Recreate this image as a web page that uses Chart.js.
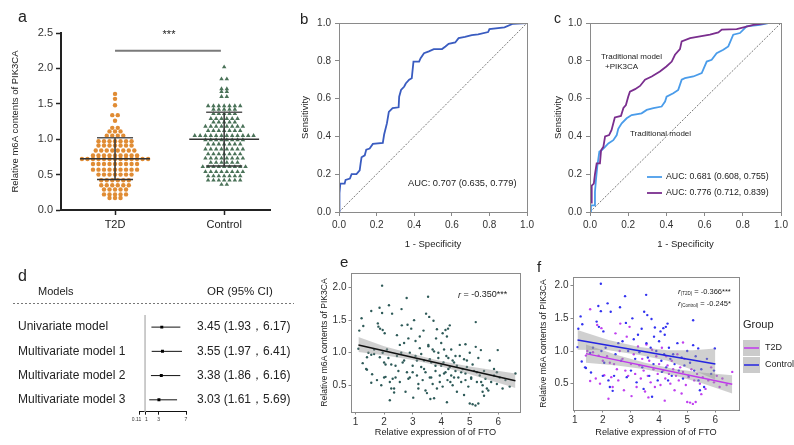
<!DOCTYPE html>
<html><head><meta charset="utf-8">
<script src="https://cdn.jsdelivr.net/npm/chart.js@4.4.0/dist/chart.umd.min.js"></script>
<style>
html,body{margin:0;padding:0;background:#fff;width:794px;height:445px;overflow:hidden;position:relative}
canvas{position:absolute}
</style></head><body>
<script>
// ================= DATA =================
// Panel a
const groupsA = ['T2D', 'Control'];
const t2dValues = [1.64, 1.57, 1.48, 1.34, 1.34, 1.26, 1.16, 1.16, 1.11, 1.11, 1.11, 1.05, 1.05, 1.05, 1.05,
  0.97, 0.97, 0.97, 0.97, 0.97, 0.97, 0.97, 0.91, 0.91, 0.91, 0.91, 0.91, 0.91, 0.91,
  0.84, 0.84, 0.84, 0.84, 0.84, 0.84, 0.84, 0.84, 0.77, 0.77, 0.77, 0.77, 0.77, 0.77, 0.77, 0.77, 0.77,
  0.72, 0.72, 0.72, 0.72, 0.72, 0.72, 0.72, 0.72, 0.72, 0.72, 0.72, 0.72, 0.72,
  0.65, 0.65, 0.65, 0.65, 0.65, 0.65, 0.65, 0.65, 0.65, 0.57, 0.57, 0.57, 0.57, 0.57, 0.57, 0.57, 0.57, 0.57,
  0.50, 0.50, 0.50, 0.50, 0.50, 0.50, 0.50, 0.42, 0.42, 0.42, 0.42, 0.42, 0.42,
  0.35, 0.35, 0.35, 0.35, 0.35, 0.35, 0.29, 0.29, 0.29, 0.29, 0.29, 0.22, 0.22, 0.22, 0.22, 0.22, 0.17, 0.17, 0.17];
const controlValues = [2.02, 1.85, 1.85, 1.71, 1.71, 1.67, 1.67, 1.60, 1.60,
  1.47, 1.47, 1.47, 1.47, 1.47, 1.47, 1.47, 1.42, 1.42, 1.42, 1.42, 1.42, 1.36, 1.36, 1.36, 1.36, 1.36,
  1.29, 1.29, 1.29, 1.29, 1.29, 1.29, 1.24, 1.24, 1.24, 1.24, 1.24, 1.18, 1.18, 1.18, 1.18, 1.18, 1.18, 1.18, 1.18,
  1.12, 1.12, 1.12, 1.12, 1.12, 1.12, 1.12, 1.05, 1.05, 1.05, 1.05, 1.05, 1.05, 1.05, 1.05, 1.05, 1.05, 1.05, 1.05,
  0.99, 0.99, 0.99, 0.99, 0.99, 0.99, 0.99, 0.99, 0.93, 0.93, 0.93, 0.93, 0.93, 0.93, 0.93,
  0.86, 0.86, 0.86, 0.86, 0.86, 0.86, 0.86, 0.86, 0.79, 0.79, 0.79, 0.79, 0.79, 0.79, 0.79,
  0.73, 0.73, 0.73, 0.73, 0.73, 0.73, 0.73, 0.73, 0.67, 0.67, 0.67, 0.67, 0.67, 0.67,
  0.61, 0.61, 0.61, 0.61, 0.61, 0.61, 0.61, 0.61, 0.61, 0.54, 0.54, 0.54, 0.54, 0.54, 0.54, 0.54, 0.54,
  0.48, 0.48, 0.48, 0.48, 0.48, 0.48, 0.48, 0.42, 0.42, 0.42, 0.42, 0.42, 0.42, 0.42, 0.36, 0.36];
const groupMeans = [0.725, 1.00];
const groupSDs = [0.295, 0.38];
const sigBarLevel = 2.25;
const sigLabel = '***';
const yTicksA = [0, 0.5, 1.0, 1.5, 2.0, 2.5];

// Panel b
const rocB_fpr = [0, 0, 0.005, 0.007, 0.03, 0.035, 0.058, 0.067, 0.093, 0.11, 0.115, 0.12, 0.137, 0.145, 0.163, 0.18, 0.233, 0.24, 0.255, 0.265,
  0.285, 0.317, 0.32, 0.33, 0.347, 0.355, 0.373, 0.387, 0.396, 0.426, 0.434, 0.452, 0.478, 0.504, 0.548, 0.566, 0.583, 0.618, 0.636, 0.67,
  0.706, 0.74, 0.793, 0.80, 0.88, 0.925, 1.0];
const rocB_tpr = [0, 0.097, 0.10, 0.15, 0.15, 0.17, 0.177, 0.2, 0.2, 0.22, 0.257, 0.29, 0.30, 0.33, 0.336, 0.36, 0.366, 0.41, 0.47, 0.53,
  0.55, 0.554, 0.61, 0.646, 0.664, 0.68, 0.70, 0.708, 0.796, 0.796, 0.814, 0.84, 0.85, 0.862, 0.862, 0.876, 0.89, 0.897, 0.92, 0.926,
  0.936, 0.94, 0.952, 0.968, 0.977, 0.996, 1.0];
const aucB = 'AUC: 0.707 (0.635, 0.779)';

// Panel c
const rocTrad_fpr = [0, 0.005, 0.005, 0.022, 0.026, 0.031, 0.038, 0.049, 0.061, 0.079, 0.096, 0.122, 0.14, 0.148, 0.166, 0.192, 0.218, 0.27, 0.297, 0.332,
  0.375, 0.393, 0.401, 0.436, 0.462, 0.48, 0.497, 0.541, 0.585, 0.611, 0.637, 0.663, 0.698, 0.724, 0.75, 0.785, 0.82, 0.89, 0.934, 1.0];
const rocTrad_tpr = [0, 0, 0.035, 0.035, 0.106, 0.168, 0.24, 0.32, 0.327, 0.345, 0.363, 0.38, 0.407, 0.44, 0.469, 0.496, 0.513, 0.522, 0.54, 0.549,
  0.558, 0.584, 0.61, 0.628, 0.646, 0.70, 0.708, 0.717, 0.735, 0.796, 0.805, 0.84, 0.858, 0.876, 0.938, 0.947, 0.982, 0.99, 1.0, 1.0];
const rocPik_fpr = [0, 0, 0.009, 0.009, 0.02, 0.026, 0.035, 0.052, 0.058, 0.07, 0.079, 0.10, 0.113, 0.13, 0.162, 0.175, 0.188, 0.2, 0.209, 0.236,
  0.262, 0.288, 0.323, 0.366, 0.40, 0.428, 0.445, 0.471, 0.48, 0.524, 0.576, 0.628, 0.672, 0.69, 0.768, 0.855, 0.925, 1.0];
const rocPik_tpr = [0, 0.05, 0.05, 0.14, 0.15, 0.2, 0.257, 0.257, 0.327, 0.345, 0.40, 0.407, 0.434, 0.50, 0.508, 0.55, 0.566, 0.61, 0.637, 0.65,
  0.667, 0.70, 0.717, 0.743, 0.77, 0.796, 0.832, 0.862, 0.903, 0.92, 0.929, 0.938, 0.95, 0.965, 0.968, 0.99, 1.0, 1.0];
const aucTrad = 'AUC: 0.681 (0.608, 0.755)';
const aucPik = 'AUC: 0.776 (0.712, 0.839)';
const rocTicks = [0, 0.2, 0.4, 0.6, 0.8, 1.0];

// Panel d
const forestModels = ['Univariate model', 'Multivariate model 1', 'Multivariate model 2', 'Multivariate model 3'];
const forestOR = [3.45, 3.55, 3.38, 3.03];
const forestLow = [1.93, 1.97, 1.86, 1.61];
const forestHigh = [6.17, 6.41, 6.16, 5.69];
const forestTicks = [0.11, 1, 3, 7];

// Panels e / f
const ctrlPoints = [[1.10,1.06],[1.13,1.34],[1.21,1.53],[1.27,1.41],[1.25,0.84],[1.37,0.75],[1.40,0.74],[1.58,0.67],[1.55,0.97],[1.65,1.05],
  [1.78,1.45],[1.84,1.69],[1.86,1.37],[1.93,1.61],[1.93,2.03],[1.95,1.00],[2.00,0.62],[2.02,1.30],[2.05,0.82],[2.10,1.05],
  [2.17,1.73],[2.20,0.55],[2.25,0.45],[2.28,1.60],[2.35,0.39],[2.40,0.62],[2.45,0.95],[2.55,1.12],[2.61,1.67],[2.65,0.85],
  [2.70,1.15],[2.79,1.84],[2.82,1.43],[2.85,0.60],[2.90,1.00],[3.00,0.70],[3.05,1.50],[3.10,1.18],[3.15,0.88],[3.20,0.52],
  [3.25,1.25],[3.30,0.98],[3.38,1.34],[3.40,0.75],[3.45,0.42],[3.47,1.60],[3.54,1.86],[3.55,1.12],[3.58,1.55],[3.60,0.90],
  [3.65,0.62],[3.70,1.05],[3.73,1.49],[3.75,0.30],[3.80,0.80],[3.82,1.22],[3.85,1.36],[3.90,1.00],[3.95,0.55],[4.00,1.15],
  [4.05,1.30],[4.08,0.85],[4.10,0.68],[4.15,1.35],[4.18,0.95],[4.20,1.25],[4.24,1.37],[4.25,0.75],[4.30,1.42],[4.32,0.55],
  [4.35,1.05],[4.40,0.88],[4.45,0.62],[4.50,0.95],[4.55,0.80],[4.65,1.12],[4.70,0.70],[4.80,0.90],[4.85,0.58],[4.90,0.78],
  [5.00,1.00],[5.05,0.62],[5.10,0.82],[5.21,1.47],[5.21,1.09],[5.25,0.70],[5.30,0.92],[5.39,1.04],[5.40,0.55],[5.45,0.40],
  [5.50,0.72],[5.60,0.45],[5.70,0.88],[5.85,0.65],[5.95,0.70],[5.98,1.04]];
const t2dPoints = [[1.40,0.93],[1.45,1.00],[1.55,1.64],[1.55,0.54],[1.65,0.98],[1.75,0.58],[1.80,1.40],[1.85,0.93],[1.90,0.50],[1.95,1.35],
  [2.00,0.85],[2.05,0.63],[2.15,0.92],[2.20,0.27],[2.25,0.82],[2.30,0.60],[2.35,0.45],[2.40,0.80],[2.45,1.27],[2.50,0.72],
  [2.55,0.55],[2.60,1.00],[2.62,1.42],[2.70,0.88],[2.75,0.40],[2.80,0.70],[2.85,1.22],[2.90,0.62],[2.95,1.37],[3.00,0.80],
  [3.02,0.31],[3.10,0.95],[3.15,0.65],[3.20,0.45],[3.25,1.07],[3.30,0.78],[3.35,0.58],[3.40,0.88],[3.45,0.70],[3.50,0.38],
  [3.55,1.10],[3.60,0.62],[3.62,0.29],[3.65,0.85],[3.70,0.52],[3.75,1.02],[3.80,0.72],[3.85,0.45],[3.90,0.92],[3.95,0.65],
  [4.00,0.80],[4.05,0.48],[4.10,1.05],[4.15,0.70],[4.20,0.24],[4.22,0.58],[4.25,0.92],[4.30,0.78],[4.35,0.65],[4.40,0.50],
  [4.45,0.85],[4.50,0.72],[4.55,0.40],[4.60,0.62],[4.65,0.95],[4.70,0.55],[4.75,0.75],[4.80,0.35],[4.85,1.13],[4.85,0.68],
  [4.90,0.88],[4.95,0.48],[5.00,0.22],[5.05,0.60],[5.10,0.21],[5.15,0.72],[5.20,0.19],[5.25,0.55],[5.30,0.22],[5.35,0.65],
  [5.45,0.50],[5.50,0.34],[5.55,0.60],[5.65,0.42],[5.75,0.55],[5.85,0.75],[5.95,0.52],[6.05,0.62],[6.15,0.45],[6.25,0.58],
  [6.40,0.48],[6.60,0.68]];
const fitAllX = [1.1, 6.6], fitAllY = [1.12, 0.57];
const bandAllX = [1.1, 2.0, 3.0, 3.9, 5.0, 6.6];
const bandAllLo = [1.01, 0.96, 0.89, 0.80, 0.67, 0.46];
const bandAllHi = [1.24, 1.10, 0.98, 0.88, 0.79, 0.68];
const fitT2dX = [1.4, 6.6], fitT2dY = [0.96, 0.49];
const bandT2dX = [1.4, 2.5, 3.5, 4.5, 5.5, 6.6];
const bandT2dLo = [0.82, 0.78, 0.72, 0.63, 0.51, 0.35];
const bandT2dHi = [1.10, 0.94, 0.82, 0.73, 0.67, 0.63];
const fitCtrlX = [1.1, 6.0], fitCtrlY = [1.17, 0.80];
const bandCtrlX = [1.1, 2.2, 3.3, 4.3, 5.2, 6.0];
const bandCtrlLo = [1.02, 1.01, 0.94, 0.85, 0.71, 0.56];
const bandCtrlHi = [1.32, 1.17, 1.06, 1.01, 1.01, 1.04];
const corrAll = 'r = -0.350***';
const corrT2d = ['r', '(T2D)', ' = -0.366***'];
const corrCtrl = ['r', '(Control)', ' = -0.245*'];
const scatterYTicks = [0.5, 1.0, 1.5, 2.0];
const scatterXTicks = [1, 2, 3, 4, 5, 6];

// ================= HELPERS =================
const FONT = 'Arial, "Liberation Sans", Helvetica, sans-serif';
Chart.defaults.font.family = FONT;
Chart.defaults.color = '#333';
Chart.defaults.plugins.legend.display = false;
Chart.defaults.plugins.tooltip.enabled = false;
Chart.defaults.animation = false;

const zip = (xs, ys) => xs.map((x, i) => ({x: x, y: ys[i]}));
const pts = arr => arr.map(p => ({x: p[0], y: p[1]}));

function swarm(values, center, dx) {
  const groups = new Map();
  values.forEach(v => { const k = Math.round(v * 100); if (!groups.has(k)) groups.set(k, []); groups.get(k).push(v); });
  const out = [];
  groups.forEach(g => { const n = g.length; g.forEach((v, i) => out.push({x: center + (i - (n - 1) / 2) * dx, y: v})); });
  return out;
}

function txt(ctx, s, x, y, size, opt) {
  opt = opt || {};
  ctx.save();
  ctx.font = (opt.style ? opt.style + ' ' : '') + size + 'px ' + FONT;
  ctx.fillStyle = opt.color || '#222';
  ctx.textAlign = opt.align || 'left';
  ctx.textBaseline = 'middle';
  ctx.fillText(s, x, y);
  const w = ctx.measureText(s).width;
  ctx.restore();
  return w;
}

function build(box, area, cfg) {
  const c = document.createElement('canvas');
  c.width = box.w; c.height = box.h;
  c.style.left = box.x + 'px'; c.style.top = box.y + 'px';
  c.style.width = box.w + 'px'; c.style.height = box.h + 'px';
  document.body.appendChild(c);
  const o = cfg.options;
  o.responsive = false; o.maintainAspectRatio = false; o.animation = false; o.devicePixelRatio = 1;
  o.layout = {padding: {left: 0, top: area.t - box.y, right: box.x + box.w - area.r, bottom: 0}};
  const yw = area.l - box.x, xh = box.y + box.h - area.b;
  o.scales.x.afterFit = s => { s.height = xh; };
  o.scales.y.afterFit = s => { s.width = yw; };
  if (cfg.yTitle) o.scales.y.title = {display: true, text: cfg.yTitle.text, color: '#222', font: {size: cfg.yTitle.size},
    padding: {top: cfg.yTitle.x - box.x - cfg.yTitle.size * 0.6, bottom: 0}};
  if (cfg.xTitle) o.scales.x.title = {display: true, text: cfg.xTitle.text, color: '#222', font: {size: cfg.xTitle.size},
    padding: {top: 0, bottom: box.y + box.h - cfg.xTitle.y - cfg.xTitle.size * 0.6}};
  const P = (ctx, s, x, y, size, opt) => txt(ctx, s, x - box.x, y - box.y, size, opt);
  const plugins = (cfg.draw ? [{id: 'deco', afterDraw: ch => cfg.draw(ch, ch.ctx, P, box)}] : []);
  return new Chart(c, {type: 'scatter', data: cfg.data, options: o, plugins: plugins});
}

function frame(ch, color) {
  const a = ch.chartArea, ctx = ch.ctx;
  ctx.save(); ctx.strokeStyle = color; ctx.lineWidth = 1;
  ctx.strokeRect(Math.round(a.left) + 0.5, Math.round(a.top) + 0.5, Math.round(a.right - a.left), Math.round(a.bottom - a.top));
  ctx.restore();
}

function lineDs(data, color, width, extra) {
  return Object.assign({data: data, showLine: true, borderColor: color, borderWidth: width, pointRadius: 0, fill: false, tension: 0}, extra || {});
}

function fixedTicks(list) { return s => { s.ticks = list.map(v => ({value: v})); }; }

function boxAxis(min, max, ticks, fmt, size, tickLen, pad) {
  return {type: 'linear', min: min, max: max, afterBuildTicks: fixedTicks(ticks),
    ticks: {callback: fmt, font: {size: size}, color: '#333', padding: pad, autoSkip: false, maxRotation: 0},
    grid: {display: true, drawOnChartArea: false, drawTicks: true, tickLength: tickLen, tickColor: '#888', tickWidth: 1},
    border: {display: false}};
}

// ================= PANEL a =================
(function () {
  const dsets = [];
  groupMeans.forEach((m, i) => {
    const sd = groupSDs[i];
    dsets.push(lineDs([{x: i - 0.32, y: m}, {x: i + 0.32, y: m}], '#333', 1.5, {order: 0}));
    dsets.push(lineDs([{x: i - 0.165, y: m + sd}, {x: i + 0.165, y: m + sd}], '#555', 1.5, {order: 0}));
    dsets.push(lineDs([{x: i - 0.165, y: m - sd}, {x: i + 0.165, y: m - sd}], '#333', 1.5, {order: 0}));
    dsets.push(lineDs([{x: i, y: m - sd}, {x: i, y: m + sd}], '#333', 1.5, {order: 0}));
  });
  dsets.push(lineDs([{x: 0, y: sigBarLevel}, {x: 0.97, y: sigBarLevel}], '#7a7a7a', 2, {order: 0}));
  dsets.push({data: swarm(t2dValues, 0, 0.0505), pointStyle: 'circle', pointRadius: 2.2, backgroundColor: '#E08C34', borderWidth: 0, order: 1});
  dsets.push({data: swarm(controlValues, 1, 0.049), pointStyle: 'triangle', pointRadius: 2.6, backgroundColor: '#4A7258', borderWidth: 0, order: 1});
  build({x: 0, y: 0, w: 275, h: 240}, {l: 61, t: 33, r: 270, b: 210}, {
    data: {datasets: dsets},
    yTitle: {text: 'Relative m6A contents of PIK3CA', size: 9.5, x: 15},
    options: {scales: {
      x: {type: 'linear', min: -0.495, max: 1.42, afterBuildTicks: fixedTicks([0, 1]),
        ticks: {callback: v => groupsA[v], font: {size: 11}, color: '#222', padding: 3, autoSkip: false, maxRotation: 0},
        grid: {display: true, drawOnChartArea: false, tickLength: 5, tickColor: '#222', tickWidth: 1.5},
        border: {display: true, color: '#222', width: 2}},
      y: {type: 'linear', min: 0, max: 2.5, afterBuildTicks: fixedTicks(yTicksA),
        ticks: {callback: v => v.toFixed(1), font: {size: 11}, color: '#333', padding: 3, autoSkip: false},
        grid: {display: true, drawOnChartArea: false, tickLength: 5, tickColor: '#222', tickWidth: 1.5},
        border: {display: true, color: '#222', width: 2}}
    }},
    draw: (ch, ctx, P) => {
      P(ctx, 'a', 18, 18, 16);
      P(ctx, sigLabel, 169, 35, 11, {align: 'center'});
    }
  });
})();

// ================= PANEL b =================
build({x: 278, y: 0, w: 259, h: 255}, {l: 339, t: 23, r: 529, b: 212}, {
  data: {datasets: [
    lineDs([{x: 0, y: 0}, {x: 1, y: 1}], '#555', 0.8, {borderDash: [2, 1.5], order: 2}),
    lineDs(zip(rocB_fpr, rocB_tpr), '#3A5CC0', 1.8, {order: 1})
  ]},
  yTitle: {text: 'Sensitivity', size: 9.5, x: 305},
  xTitle: {text: '1 - Specificity', size: 9.5, y: 244},
  options: {scales: {
    x: boxAxis(0, 1, rocTicks, v => v.toFixed(1), 10, 4, 3),
    y: boxAxis(0, 1, rocTicks, v => v.toFixed(1), 10, 4, 4)
  }},
  draw: (ch, ctx, P) => {
    frame(ch, '#8a8a8a');
    P(ctx, 'b', 300, 20, 15);
    P(ctx, aucB, 408, 183, 9.3);
  }
});

// ================= PANEL c =================
build({x: 540, y: 0, w: 254, h: 255}, {l: 590, t: 23, r: 781, b: 212}, {
  data: {datasets: [
    lineDs([{x: 0, y: 0}, {x: 1, y: 1}], '#555', 0.8, {borderDash: [2, 1.5], order: 3}),
    lineDs(zip(rocTrad_fpr, rocTrad_tpr), '#4A9CEA', 1.8, {order: 2}),
    lineDs(zip(rocPik_fpr, rocPik_tpr), '#7A2E8E', 1.8, {order: 1})
  ]},
  yTitle: {text: 'Sensitivity', size: 9.5, x: 558},
  xTitle: {text: '1 - Specificity', size: 9.5, y: 244},
  options: {scales: {
    x: boxAxis(0, 1, rocTicks, v => v.toFixed(1), 10, 4, 3),
    y: boxAxis(0, 1, rocTicks, v => v.toFixed(1), 10, 4, 4)
  }},
  draw: (ch, ctx, P, box) => {
    frame(ch, '#8a8a8a');
    P(ctx, 'c', 554, 19, 14);
    P(ctx, 'Traditional model', 601, 57, 8);
    P(ctx, '+PIK3CA', 605, 67, 8);
    P(ctx, 'Traditional model', 630, 134, 8);
    ctx.save(); ctx.lineWidth = 1.8;
    ctx.strokeStyle = '#4A9CEA'; ctx.beginPath(); ctx.moveTo(647 - box.x, 177 - box.y); ctx.lineTo(662 - box.x, 177 - box.y); ctx.stroke();
    ctx.strokeStyle = '#7A2E8E'; ctx.beginPath(); ctx.moveTo(647 - box.x, 193 - box.y); ctx.lineTo(662 - box.x, 193 - box.y); ctx.stroke();
    ctx.restore();
    P(ctx, aucTrad, 666, 177, 8.8);
    P(ctx, aucPik, 666, 193, 8.8);
  }
});

// ================= PANEL d =================
(function () {
  const yMin = 0.5, yMax = 4.49;
  const dsets = [lineDs([{x: 1, y: yMin}, {x: 1, y: yMax}], '#c4c4c4', 1, {order: 3})];
  forestModels.forEach((m, i) => {
    dsets.push(lineDs([{x: forestLow[i], y: i + 1}, {x: forestHigh[i], y: i + 1}], '#111', 1, {order: 2}));
  });
  dsets.push({data: forestOR.map((v, i) => ({x: v, y: i + 1})), pointStyle: 'rect', pointRadius: 2.1, backgroundColor: '#000', borderWidth: 0, order: 1});
  const tickText = v => v === forestTicks[0] ? String(v) + '\u2002\u2002' : (v === forestTicks[1] ? '\u2002' + String(v) : String(v));
  build({x: 0, y: 250, w: 305, h: 190}, {l: 139, t: 315, r: 186, b: 411.7}, {
    data: {datasets: dsets},
    options: {scales: {
      x: {type: 'linear', min: 0.11, max: 7, afterBuildTicks: fixedTicks(forestTicks),
        ticks: {callback: tickText, font: {size: 5}, color: '#333', padding: 2, autoSkip: false, maxRotation: 0},
        grid: {display: true, drawOnChartArea: false, tickLength: 3, tickColor: '#111', tickWidth: 1},
        border: {display: true, color: '#111', width: 1}},
      y: {type: 'linear', min: yMin, max: yMax, reverse: true, ticks: {display: false}, grid: {display: false}, border: {display: false}}
    }},
    draw: (ch, ctx, P, box) => {
      P(ctx, 'd', 18, 277, 16);
      P(ctx, 'Models', 38, 292, 11);
      P(ctx, 'OR (95% CI)', 207, 292, 11.5);
      ctx.save(); ctx.strokeStyle = '#777'; ctx.lineWidth = 1; ctx.setLineDash([2, 2]);
      ctx.beginPath(); ctx.moveTo(13 - box.x, 303.5 - box.y); ctx.lineTo(294 - box.x, 303.5 - box.y); ctx.stroke(); ctx.restore();
      const ys = ch.scales.y;
      forestModels.forEach((m, i) => {
        const y = ys.getPixelForValue(i + 1) + box.y;
        P(ctx, m, 18, y, 12);
        P(ctx, forestOR[i].toFixed(2) + ' (' + forestLow[i].toFixed(2) + '\uFF0C' + forestHigh[i].toFixed(2) + ')', 197, y, 12);
      });
    }
  });
})();

// ================= PANEL e =================
build({x: 315, y: 252, w: 215, h: 193}, {l: 351, t: 273, r: 520, b: 412}, {
  data: {datasets: [
    {data: pts(ctrlPoints.concat(t2dPoints)), pointRadius: 1.2, backgroundColor: '#2E5A58', borderWidth: 0, order: 3},
    lineDs(zip(bandAllX, bandAllHi), 'rgba(0,0,0,0)', 0, {order: 2}),
    lineDs(zip(bandAllX, bandAllLo), 'rgba(0,0,0,0)', 0, {order: 2, fill: '-1', backgroundColor: 'rgba(150,150,150,0.45)'}),
    lineDs(zip(fitAllX, fitAllY), '#111', 1.5, {order: 1})
  ]},
  yTitle: {text: 'Relative m6A contents of PIK3CA', size: 8.6, x: 325},
  xTitle: {text: 'Relative expression of of FTO', size: 9.2, y: 432},
  options: {scales: {
    x: boxAxis(0.84, 6.76, scatterXTicks, v => String(v), 10, 2.5, 2),
    y: boxAxis(0.09, 2.224, scatterYTicks, v => v.toFixed(1), 10, 2.5, 2)
  }},
  draw: (ch, ctx, P) => {
    frame(ch, '#8a8a8a');
    P(ctx, 'e', 340, 263, 15);
    const w = P(ctx, 'r', 458, 295, 9, {style: 'italic'});
    P(ctx, corrAll.slice(1), 458 + w, 295, 9);
  }
});

// ================= PANEL f =================
build({x: 532, y: 255, w: 262, h: 190}, {l: 573, t: 277, r: 739, b: 410}, {
  data: {datasets: [
    {data: pts(ctrlPoints), pointRadius: 1.2, backgroundColor: '#3232F0', borderWidth: 0, order: 4},
    {data: pts(t2dPoints), pointRadius: 1.2, backgroundColor: '#C040F0', borderWidth: 0, order: 4},
    lineDs(zip(bandCtrlX, bandCtrlHi), 'rgba(0,0,0,0)', 0, {order: 3}),
    lineDs(zip(bandCtrlX, bandCtrlLo), 'rgba(0,0,0,0)', 0, {order: 3, fill: '-1', backgroundColor: 'rgba(150,150,150,0.45)'}),
    lineDs(zip(bandT2dX, bandT2dHi), 'rgba(0,0,0,0)', 0, {order: 3}),
    lineDs(zip(bandT2dX, bandT2dLo), 'rgba(0,0,0,0)', 0, {order: 3, fill: '-1', backgroundColor: 'rgba(150,150,150,0.45)'}),
    lineDs(zip(fitCtrlX, fitCtrlY), '#2424E0', 1.5, {order: 1}),
    lineDs(zip(fitT2dX, fitT2dY), '#C038EC', 1.5, {order: 1})
  ]},
  yTitle: {text: 'Relative m6A contents of PIK3CA', size: 8.6, x: 544},
  xTitle: {text: 'Relative expression of of FTO', size: 9.2, y: 432},
  options: {scales: {
    x: boxAxis(0.94, 6.84, scatterXTicks, v => String(v), 10, 2.5, 2),
    y: boxAxis(0.097, 2.133, scatterYTicks, v => v.toFixed(1), 10, 2.5, 2)
  }},
  draw: (ch, ctx, P, box) => {
    frame(ch, '#8a8a8a');
    P(ctx, 'f', 537, 268, 15);
    [[corrT2d, 292], [corrCtrl, 304]].forEach(([parts, y]) => {
      let x = 678;
      x += P(ctx, parts[0], x, y, 8, {style: 'italic'});
      x += P(ctx, parts[1], x, y + 2, 4.5);
      P(ctx, parts[2], x, y, 7.5);
    });
    P(ctx, 'Group', 743, 325, 11);
    ctx.save();
    ctx.fillStyle = '#cbcbcb';
    ctx.fillRect(743 - box.x, 340 - box.y, 17, 16);
    ctx.fillRect(743 - box.x, 357 - box.y, 17, 16);
    ctx.lineWidth = 1.5;
    ctx.strokeStyle = '#C038EC'; ctx.beginPath(); ctx.moveTo(744 - box.x, 348 - box.y); ctx.lineTo(759 - box.x, 348 - box.y); ctx.stroke();
    ctx.strokeStyle = '#2424E0'; ctx.beginPath(); ctx.moveTo(744 - box.x, 365 - box.y); ctx.lineTo(759 - box.x, 365 - box.y); ctx.stroke();
    ctx.restore();
    P(ctx, groupsA[0], 765, 348, 9);
    P(ctx, groupsA[1], 765, 365, 9);
  }
});
</script>
</body></html>
